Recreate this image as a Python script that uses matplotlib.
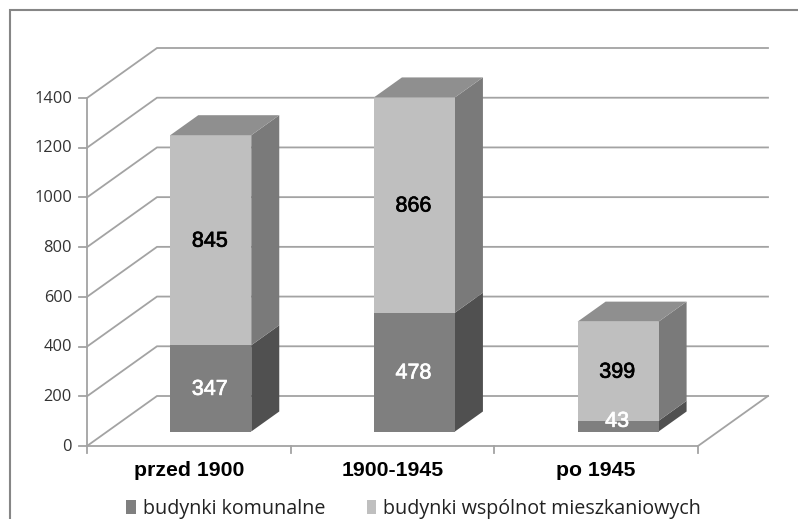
import matplotlib
matplotlib.use('Agg')
from matplotlib import pyplot as plt
from matplotlib.patches import Polygon, Rectangle
import matplotlib.patheffects as pe

categories = ['przed 1900', '1900-1945', 'po 1945']
komunalne = [347, 478, 43]
wspolnot = [845, 866, 399]
yticks = [0, 200, 400, 600, 800, 1000, 1200, 1400]
legend_labels = ['budynki komunalne', 'budynki wspólnot mieszkaniowych']

W, H = 798, 519
fig = plt.figure(figsize=(W / 100, H / 100), dpi=100)
ax = fig.add_axes([87 / W, 1 - 446 / H, 611 / W, 348 / H])
ax.set_xlim(0, 3)
ax.set_ylim(0, 1400)
ax.axis('off')

# skos dla glebokosci wykresu
DX = 70 / 611 * 3
DY = 50 / 348 * 1400


def pr(x, v, d):
    return (x + d * DX, v + d * DY)


def face(pts, color, z, line='none'):
    ax.add_patch(Polygon(pts, closed=True, fc=color, ec=line, lw=0.5, zorder=z, clip_on=False))


def value_label(x, v, s, color):
    txt = ax.text(x, v, s, ha='center', va='center', color=color, fontsize=15.5,
                  family='Liberation Sans', zorder=10)
    txt.set_path_effects([pe.withStroke(linewidth=0.5, foreground=color)])


grid = '#a3a3a3'
for v in yticks:
    xs, ys = zip(pr(0, v, 0), pr(0, v, 1), pr(3, v, 1))
    ax.plot(xs, ys, color=grid, lw=1.3, zorder=1, clip_on=False, solid_joinstyle='miter')
    ax.plot([-8 / 611 * 3, 0], [v, v], color=grid, lw=1.3, zorder=1, clip_on=False)
    ax.text(-15 / 611 * 3, v - 3, str(v), ha='right', va='center', fontsize=11.8,
            family='Open Sans', color='#333333', clip_on=False)

# podloga i os
xs, ys = zip(pr(3, 0, 1), pr(3, 0, 0), pr(0, 0, 0))
ax.plot(xs, ys, color=grid, lw=1.3, zorder=1, clip_on=False)
ax.plot([0, 0], [0, 1400], color=grid, lw=1.3, zorder=1, clip_on=False)
for i in range(4):
    ax.plot([i, i], [0, -28], color=grid, lw=1.3, zorder=1, clip_on=False)

D0, D1 = 0.29, 0.69
BW = 81 / 611 * 3
for i, (a, b) in enumerate(zip(komunalne, wspolnot)):
    x0 = i + 0.5 - BW / 2 + 0.008
    x1 = x0 + BW
    t = a + b
    z = 3 + i
    # dolny segment
    face([pr(x1, 0, D0), pr(x1, 0, D1), pr(x1, a, D1), pr(x1, a, D0)], '#505050', z)
    face([pr(x0, 0, D0), pr(x1, 0, D0), pr(x1, a, D0), pr(x0, a, D0)], '#7f7f7f', z)
    # gorny segment
    face([pr(x1, a, D0), pr(x1, a, D1), pr(x1, t, D1), pr(x1, t, D0)], '#7a7a7a', z)
    face([pr(x0, a, D0), pr(x1, a, D0), pr(x1, t, D0), pr(x0, t, D0)], '#bfbfbf', z)
    face([pr(x0, t, D0), pr(x1, t, D0), pr(x1, t, D1), pr(x0, t, D1)], '#8f8f8f', z)
    cx = (x0 + x1) / 2 - 0.005
    # etykieta niskiego segmentu wystaje ponad niego
    value_label(pr(cx, 0, D0)[0], pr(cx, max(a / 2, 45) - 4, D0)[1], str(a), 'white')
    value_label(pr(cx, 0, D0)[0], pr(cx, a + b / 2 - 4, D0)[1], str(b), 'black')
    ax.text(i + 0.5, -100, categories[i], ha='center', va='center', color='black',
            fontsize=15.3, fontweight='bold', family='Liberation Sans', clip_on=False)

# ramka
fig.add_artist(Rectangle((9.5 / W, 1 - 540 / H), 800 / W, 530 / H, transform=fig.transFigure,
                         fc='none', ec='#868686', lw=1.5))

# legenda
handles = [Rectangle((0, 0), 1, 1, fc='#7f7f7f'), Rectangle((0, 0), 1, 1, fc='#bfbfbf')]
fig.legend(handles, legend_labels, ncol=2, frameon=False, loc='center',
           bbox_to_anchor=(413.5 / W, 1 - 509 / H), handlelength=0.5, handleheight=0.7,
           handletextpad=0.35, columnspacing=2.1, prop={'family': 'Open Sans', 'size': 14.2},
           labelcolor='#222222')

fig.savefig('out.png', dpi=100)
